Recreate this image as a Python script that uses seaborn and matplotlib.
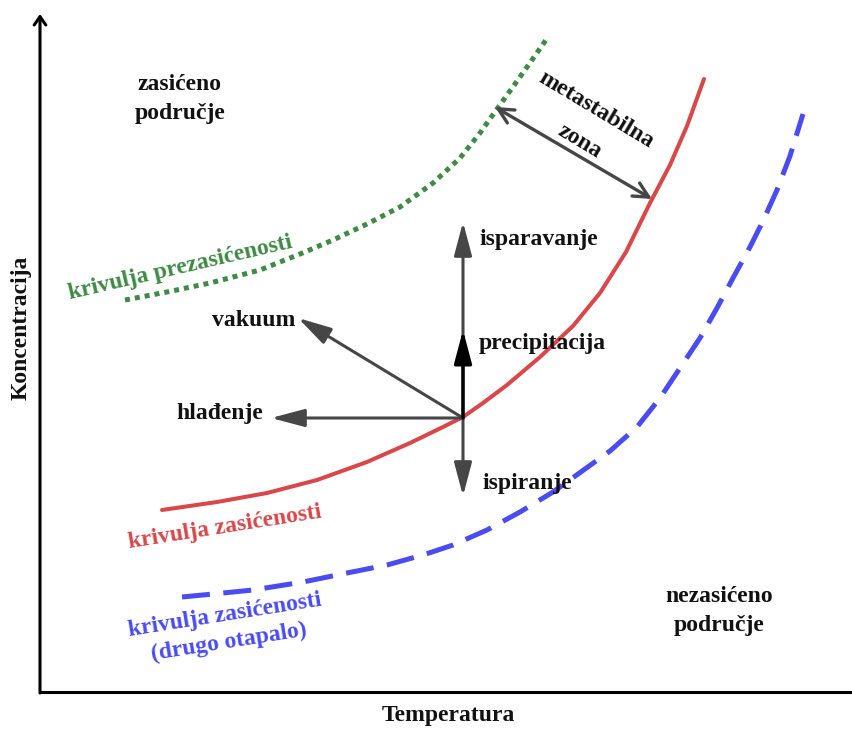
import seaborn as sns
import pandas as pd
import matplotlib.pyplot as plt

# krivulje (očitano sa slike, x desno, y prema dolje)
sat_x = [162, 217, 267, 317, 367, 410, 443, 463, 483, 507, 540, 573, 600, 626, 650, 670, 687, 704]
sat_y = [510, 502, 493, 480, 462, 443, 427, 417, 403, 385, 357, 326, 293, 252, 203, 165, 126, 79]

super_x = [125, 167, 210, 260, 300, 333, 367, 400, 433, 460, 480, 497, 515, 532, 548]
super_y = [300, 292, 283, 270, 254, 240, 224, 207, 183, 158, 133, 109, 84, 60, 37]

other_x = [182, 213, 253, 303, 347, 387, 423, 453, 487, 520, 553, 585, 610, 637, 660,
           680, 700, 717, 733, 750, 763, 777, 790, 803]
other_y = [597, 594, 590, 582, 573, 565, 555, 545, 530, 512, 492, 469, 451, 427, 398,
           368, 338, 308, 278, 247, 221, 190, 156, 114]

# strelice procesa
center = (463, 418)
process_ends = {
    "isparavanje": (463, 222),
    "ispiranje": (463, 496),
    "hlađenje": (271, 418),
    "vakuum": (298, 318),
}
precip_end = (463, 330)
meta_a = (495, 107)
meta_b = (652, 199)

RED = "#d9474a"
GREEN = "#3f8a45"
BLUE = "#4a4cf2"
GRAY = "#464646"
INK = "#111111"

sns.set_theme(style="white")
plt.rcParams['font.family'] = ['Liberation Serif', 'DejaVu Serif']

fig = plt.figure(figsize=(8.53, 7.31), dpi=100)
ax = fig.add_axes([0, 0, 1, 1])
ax.set_xlim(0, 853)
ax.set_ylim(731, 0)
ax.axis('off')

sat = pd.DataFrame({"x": sat_x, "y": sat_y})
sup = pd.DataFrame({"x": super_x, "y": super_y})
oth = pd.DataFrame({"x": other_x, "y": other_y})

sns.lineplot(data=sat, x="x", y="y", sort=False, color=RED, lw=2.9, ax=ax)
ax.lines[-1].set_solid_joinstyle('round')
sns.lineplot(data=sup, x="x", y="y", sort=False, color=GREEN, lw=3.6, ax=ax)
ax.lines[-1].set_dashes([1, 1])
ax.lines[-1].set_dash_capstyle('butt')
sns.lineplot(data=oth, x="x", y="y", sort=False, color=BLUE, lw=3.6, ax=ax)
ax.lines[-1].set_dashes([5.6, 2.7])
ax.lines[-1].set_dash_capstyle('butt')

# osi
ax.annotate("", xy=(40, 14), xytext=(40, 693),
            arrowprops=dict(arrowstyle="->,head_length=0.5,head_width=0.35", color="black",
                            lw=2.2, shrinkA=0, shrinkB=0))
ax.plot([39, 853], [692, 692], color="black", lw=2.2, solid_capstyle="butt")

# strelice
head = "-|>,head_length=1.7,head_width=0.45"
for name, end in process_ends.items():
    ax.annotate("", xy=end, xytext=center,
                arrowprops=dict(arrowstyle=head, color=GRAY, lw=2.2, shrinkA=0, shrinkB=0))
ax.annotate("", xy=precip_end, xytext=center,
            arrowprops=dict(arrowstyle=head, color="black", lw=2.4, shrinkA=0, shrinkB=0))
ax.annotate("", xy=meta_a, xytext=meta_b,
            arrowprops=dict(arrowstyle="<->,head_length=0.9,head_width=0.45",
                            color=GRAY, lw=2.4, shrinkA=0, shrinkB=0))

fs = 17
kw = dict(fontsize=fs, fontweight="bold", color=INK)
ax.text(180, 99, "zasićeno\npodručje", ha="center", va="center", linespacing=1.55, **kw)
ax.text(719, 611, "nezasićeno\npodručje", ha="center", va="center", linespacing=1.5, **kw)
ax.text(596, 110, "metastabilna", ha="center", va="center", rotation=-31, **kw)
ax.text(580, 141, "zona", ha="center", va="center", rotation=-31, **kw)
ax.text(479, 240, "isparavanje", ha="left", va="center", **kw)
ax.text(479, 343, "precipitacija", ha="left", va="center", **kw)
ax.text(295, 320, "vakuum", ha="right", va="center", **kw)
ax.text(263, 413, "hlađenje", ha="right", va="center", **kw)
ax.text(482, 484, "ispiranje", ha="left", va="center", **kw)

ax.text(180, 268, "krivulja prezasićenosti", ha="center", va="center", rotation=13,
        fontsize=fs, fontweight="bold", color=GREEN)
ax.text(225, 527, "krivulja zasićenosti", ha="center", va="center", rotation=9,
        fontsize=fs, fontweight="bold", color=RED)
ax.text(227, 629, "krivulja zasićenosti\n(drugo otapalo)", ha="center", va="center", rotation=9,
        linespacing=1.35, fontsize=fs, fontweight="bold", color=BLUE)

ax.text(448, 716, "Temperatura", ha="center", va="center", **kw)
ax.text(21, 328, "Koncentracija", ha="center", va="center", rotation=90, **kw)

fig.savefig("out.png", dpi=100)
